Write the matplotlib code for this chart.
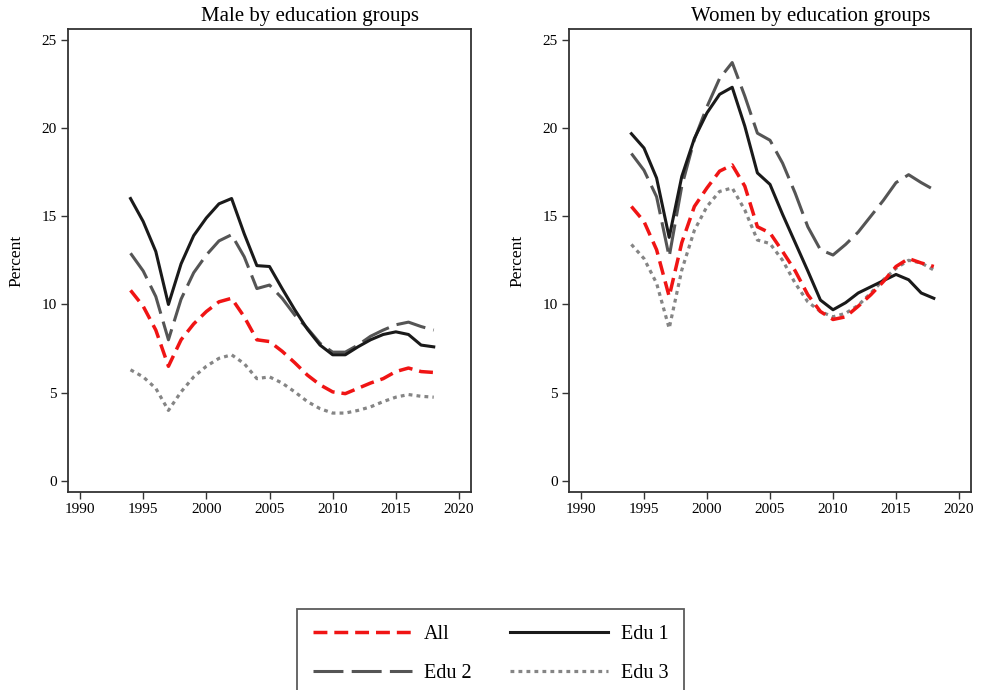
"""Unemployment-style rates by education group, men vs women, 1994-2018."""

import matplotlib

matplotlib.use("Agg")
import matplotlib.pyplot as plt  # noqa: E402

years = list(range(1994, 2019))

# Male panel
male_all = [10.8, 9.9, 8.55, 6.5, 8.0, 8.9, 9.6, 10.15, 10.35, 9.3, 8.0, 7.9, 7.35,
            6.7, 6.0, 5.45, 5.05, 4.95, 5.25, 5.55, 5.8, 6.2, 6.4, 6.2, 6.15]
male_edu1 = [16.0, 14.7, 13.0, 10.0, 12.3, 13.9, 14.9, 15.7, 16.0, 14.0, 12.2, 12.15, 10.9,
             9.7, 8.6, 7.7, 7.15, 7.15, 7.6, 8.0, 8.3, 8.45, 8.3, 7.7, 7.6]
male_edu2 = [12.9, 11.9, 10.45, 8.0, 10.3, 11.8, 12.8, 13.6, 13.95, 12.7, 10.9, 11.1, 10.35,
             9.4, 8.65, 7.8, 7.3, 7.3, 7.7, 8.2, 8.55, 8.85, 9.0, 8.75, 8.55]
male_edu3 = [6.3, 5.9, 5.25, 4.0, 5.05, 5.9, 6.5, 6.95, 7.15, 6.65, 5.8, 5.9, 5.55,
             5.05, 4.5, 4.1, 3.85, 3.85, 4.0, 4.2, 4.5, 4.75, 4.9, 4.8, 4.75]

# Women panel
women_all = [15.55, 14.7, 13.1, 10.45, 13.5, 15.55, 16.6, 17.55, 17.9, 16.7, 14.4, 14.05, 13.0,
             11.9, 10.55, 9.6, 9.15, 9.3, 9.9, 10.55, 11.3, 12.15, 12.6, 12.35, 12.15]
women_edu1 = [19.67, 18.86, 17.16, 13.8, 17.25, 19.4, 20.85, 21.9, 22.3, 20.1, 17.45, 16.8, 15.1,
              13.5, 11.9, 10.25, 9.7, 10.1, 10.65, 11.0, 11.35, 11.7, 11.4, 10.65, 10.35]
women_edu2 = [18.55, 17.6, 16.1, 12.7, 16.7, 19.35, 21.2, 22.8, 23.7, 21.8, 19.7, 19.3, 18.0,
              16.3, 14.4, 13.1, 12.8, 13.4, 14.1, 15.0, 15.9, 16.9, 17.35, 16.9, 16.5]
women_edu3 = [13.4, 12.6, 11.2, 8.65, 11.95, 14.2, 15.55, 16.4, 16.6, 15.35, 13.65, 13.45, 12.5,
              11.2, 10.15, 9.6, 9.3, 9.5, 9.95, 10.65, 11.4, 12.05, 12.5, 12.35, 11.95]

x_ticks = [1990, 1995, 2000, 2005, 2010, 2015, 2020]
y_ticks = [0, 5, 10, 15, 20, 25]

STYLES = {
    "All": dict(color="#f01414", lw=2.5, ls=(0, (4.0, 2.0))),
    "Edu 1": dict(color="#1a1a1a", lw=2.2),
    "Edu 2": dict(color="#555555", lw=2.2, ls=(0, (9.8, 2.7))),
    "Edu 3": dict(color="#858585", lw=2.3, ls=(0, (1.2, 1.3))),
}

plt.rcParams["font.family"] = ["Liberation Serif", "DejaVu Serif"]

fig = plt.figure(figsize=(9.87, 6.9), dpi=100)
ax_m = fig.add_axes([68 / 987, 1 - 492 / 690, 403 / 987, 463 / 690])
ax_w = fig.add_axes([569 / 987, 1 - 492 / 690, 402 / 987, 463 / 690])

panels = [
    (ax_m, "Male by education groups", 310,
     {"All": male_all, "Edu 1": male_edu1, "Edu 2": male_edu2, "Edu 3": male_edu3}),
    (ax_w, "Women by education groups", 811,
     {"All": women_all, "Edu 1": women_edu1, "Edu 2": women_edu2, "Edu 3": women_edu3}),
]

handles = {}
for ax, title, title_x, series in panels:
    # draw order: solid on top of dashed grey, red over the rest
    for name in ["Edu 3", "Edu 2", "Edu 1", "All"]:
        (ln,) = ax.plot(years, series[name], label=name, **STYLES[name])
        handles[name] = ln
    ax.set_xlim(1989.05, 2020.95)
    ax.set_ylim(-0.62, 25.6)
    ax.set_xticks(x_ticks)
    ax.set_yticks(y_ticks)
    ax.tick_params(labelsize=11, length=5, width=1, color="#333333", pad=3)
    ax.set_ylabel("Percent", fontsize=12.5)
    ax.yaxis.set_label_coords(-0.108, 0.5)
    for sp in ax.spines.values():
        sp.set_color("#333333")
        sp.set_linewidth(1.3)
    fig.text(title_x / 987, 1 - 17 / 690, title, ha="center", va="center", fontsize=15)

order = ["All", "Edu 2", "Edu 1", "Edu 3"]
leg = fig.legend([handles[k] for k in order], order, ncol=2, fontsize=14.5,
                 loc="upper left", bbox_to_anchor=(297 / 987, 1 - 609 / 690),
                 frameon=True, fancybox=False, edgecolor="#333333",
                 handlelength=4.9, handletextpad=0.6, columnspacing=1.9,
                 labelspacing=1.0, borderpad=0.8, borderaxespad=0)
leg.get_frame().set_linewidth(1.3)

fig.savefig("out.png", dpi=100)
